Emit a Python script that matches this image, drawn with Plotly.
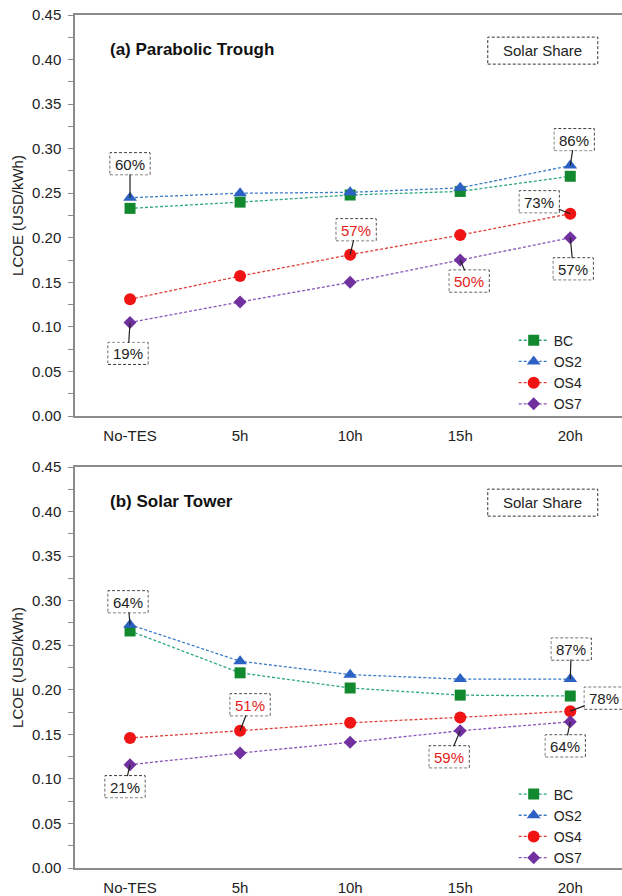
import plotly.graph_objects as go

# ---------------- data ----------------
categories = ["No-TES", "5h", "10h", "15h", "20h"]
series_names = ["BC", "OS2", "OS4", "OS7"]

# (a) Parabolic Trough  LCOE (USD/kWh)
pt_bc = [0.233, 0.240, 0.248, 0.252, 0.269]
pt_os2 = [0.245, 0.250, 0.251, 0.256, 0.281]
pt_os4 = [0.131, 0.157, 0.181, 0.203, 0.227]
pt_os7 = [0.105, 0.128, 0.150, 0.175, 0.200]

# (b) Solar Tower  LCOE (USD/kWh)
st_bc = [0.266, 0.219, 0.202, 0.194, 0.193]
st_os2 = [0.273, 0.232, 0.217, 0.212, 0.212]
st_os4 = [0.146, 0.154, 0.163, 0.169, 0.176]
st_os7 = [0.116, 0.129, 0.141, 0.154, 0.164]

ytick_vals = [0.00, 0.05, 0.10, 0.15, 0.20, 0.25, 0.30, 0.35, 0.40, 0.45]
ytick_text = ["0.00", "0.05", "0.10", "0.15", "0.20", "0.25", "0.30", "0.35", "0.40", "0.45"]

# solar share call-outs: text, series, category
pt_share_text = ["60%", "86%", "73%", "57%", "50%", "57%", "19%"]
pt_share_series = ["OS2", "OS2", "OS4", "OS4", "OS7", "OS7", "OS7"]
pt_share_cat = ["No-TES", "20h", "20h", "10h", "15h", "20h", "No-TES"]

st_share_text = ["64%", "51%", "59%", "87%", "78%", "64%", "21%"]
st_share_series = ["OS2", "OS4", "OS7", "OS2", "OS4", "OS7", "OS7"]
st_share_cat = ["No-TES", "5h", "15h", "20h", "20h", "20h", "No-TES"]

panel_titles = ["(a) Parabolic Trough", "(b) Solar Tower"]
box_title = "Solar Share"

# ---------------- styling ----------------
FONT = "Liberation Sans, Arial, sans-serif"
marker_col = {"BC": "#12892e", "OS2": "#2c62c4", "OS4": "#f01414", "OS7": "#7030a0"}
line_col = {"BC": "#2fa785", "OS2": "#3d7cc6", "OS4": "#e0403a", "OS7": "#8a55b8"}
symbols = {"BC": "square", "OS2": "triangle-up", "OS4": "circle", "OS7": "diamond"}
msize = {"BC": 11, "OS2": 12, "OS4": 12, "OS7": 10}

# label layout (pixel offsets box-centre from point) and colour
pt_offsets = [(0, -34), (4, -26), (-31, -12), (6, -25), (9, 21), (3, 31), (-2, 31)]
pt_red = [False, False, False, True, True, False, False]
st_offsets = [(-2, -23), (10, -26), (-11, 26), (1, -30), (34, -13), (-5, 24), (-5, 22)]
st_red = [False, True, True, False, False, False, False]

fig = go.Figure()

panels = [
    dict(data={"BC": pt_bc, "OS2": pt_os2, "OS4": pt_os4, "OS7": pt_os7},
         xa="x", ya="y", legend="legend",
         texts=pt_share_text, ser=pt_share_series, cat=pt_share_cat,
         offs=pt_offsets, red=pt_red, title=panel_titles[0]),
    dict(data={"BC": st_bc, "OS2": st_os2, "OS4": st_os4, "OS7": st_os7},
         xa="x2", ya="y2", legend="legend2",
         texts=st_share_text, ser=st_share_series, cat=st_share_cat,
         offs=st_offsets, red=st_red, title=panel_titles[1]),
]

annotations = []
shapes = []
cat_idx = {c: i for i, c in enumerate(categories)}

for p in panels:
    for name in series_names:
        fig.add_trace(go.Scatter(
            x=categories, y=p["data"][name], name=name, mode="lines+markers",
            xaxis=p["xa"], yaxis=p["ya"], legend=p["legend"],
            line=dict(color=line_col[name], width=1.3, dash="3px,2px"),
            marker=dict(symbol=symbols[name], size=msize[name], color=marker_col[name],
                        line=dict(width=0)),
            hoverinfo="skip"))
    # call-outs
    for t, s, c, (dx, dy), red in zip(p["texts"], p["ser"], p["cat"], p["offs"], p["red"]):
        xi = cat_idx[c]
        yv = p["data"][s][xi]
        w, h = 40, 22
        annotations.append(dict(
            x=xi, y=yv, xref=p["xa"], yref=p["ya"], text=t, showarrow=True,
            ax=dx, ay=dy, arrowhead=0, arrowwidth=1.2, arrowcolor="#222",
            width=w - 2, height=h - 2, borderpad=0, borderwidth=1,
            bordercolor="rgba(0,0,0,0)", bgcolor="white",
            font=dict(family=FONT, size=15, color="#e31b1b" if red else "#222")))
        shapes.append(dict(
            type="rect", xref=p["xa"], yref=p["ya"], xsizemode="pixel", ysizemode="pixel",
            xanchor=xi, yanchor=yv, x0=dx - w / 2, x1=dx + w / 2,
            y0=-dy - h / 2, y1=-dy + h / 2,
            line=dict(color="#333", width=1, dash="3px,2px"), fillcolor="rgba(0,0,0,0)"))
    # panel title
    annotations.append(dict(
        x=-0.2, y=0.411, xref=p["xa"], yref=p["ya"], text="<b>" + p["title"] + "</b>",
        showarrow=False, xanchor="left", yanchor="middle",
        font=dict(family=FONT, size=17, color="#111")))
    # Solar Share box
    annotations.append(dict(
        x=3.75, y=0.410, xref=p["xa"], yref=p["ya"], text=box_title,
        showarrow=False, xanchor="center", yanchor="middle",
        font=dict(family=FONT, size=15, color="#222")))
    shapes.append(dict(
        type="rect", xref=p["xa"], yref=p["ya"], xsizemode="pixel", ysizemode="pixel",
        xanchor=3.75, yanchor=0.410, x0=-55, x1=55, y0=-13.5, y1=13.5,
        line=dict(color="#333", width=1, dash="3px,2px"), fillcolor="rgba(0,0,0,0)"))

xaxis_style = dict(
    type="category", range=[-0.5, 4.47], showline=True, mirror=True,
    linecolor="#8c8c8c", linewidth=1.5, ticks="", showgrid=False, zeroline=False,
    automargin=False,
    tickfont=dict(family=FONT, size=15, color="#222"), ticklabelstandoff=5)
yaxis_style = dict(
    range=[0, 0.45], tickvals=ytick_vals, ticktext=ytick_text, showline=True,
    linecolor="#8c8c8c", linewidth=1.5, ticks="outside", ticklen=5, tickwidth=1,
    tickcolor="#8c8c8c", showgrid=False, zeroline=False, automargin=False,
    minor=dict(dtick=0.025, tick0=0, ticks="outside", ticklen=5, tickcolor="#8c8c8c",
               showgrid=False),
    tickfont=dict(family=FONT, size=15, color="#222"), ticklabelstandoff=4,
    title=dict(text="LCOE (USD/kWh)", font=dict(family=FONT, size=15, color="#222"),
               standoff=5))

legend_style = dict(
    xanchor="left", yanchor="top", bgcolor="rgba(0,0,0,0)", borderwidth=0,
    font=dict(family=FONT, size=14, color="#222"), tracegroupgap=0, itemsizing="trace")

fig.update_layout(
    width=622, height=896, margin=dict(l=75, r=0, t=15, b=28),
    paper_bgcolor="white", plot_bgcolor="white", showlegend=True,
    font=dict(family=FONT, color="#222"),
    xaxis=dict(**xaxis_style, domain=[0, 1], anchor="y"),
    yaxis=dict(**yaxis_style, domain=[0.5299, 1.0], anchor="x"),
    xaxis2=dict(**xaxis_style, domain=[0, 1], anchor="y2"),
    yaxis2=dict(**yaxis_style, domain=[0.0, 0.4701], anchor="x2"),
    legend=dict(**legend_style, x=0.802, y=0.637),
    legend2=dict(**legend_style, x=0.802, y=0.105),
    annotations=annotations, shapes=shapes)

fig.write_html("out.html", config={"displayModeBar": False},
               post_script="document.body.style.margin='0px';document.body.style.overflow='hidden';")
